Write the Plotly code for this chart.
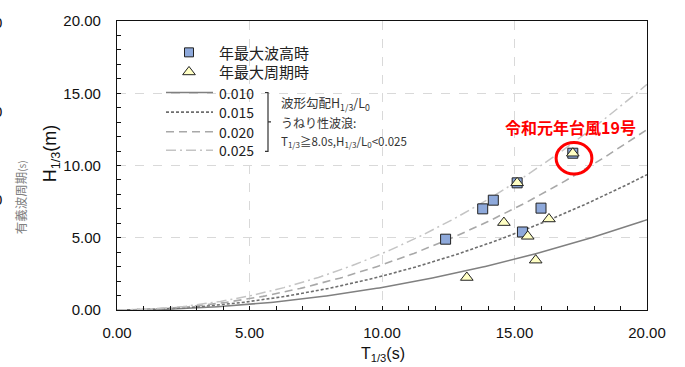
import numpy as np
import plotly.graph_objects as go

# ---- data ----
wave_T = [12.4, 13.8, 14.2, 15.1, 15.3, 16.0, 17.2]      # 年最大波高時
wave_H = [4.9, 7.0, 7.6, 8.8, 5.4, 7.05, 10.85]
period_T = [13.2, 14.6, 15.1, 15.5, 15.8, 16.3, 17.2]    # 年最大周期時
period_H = [2.25, 6.05, 8.8, 5.1, 3.45, 6.3, 10.85]
steepness = [0.010, 0.015, 0.020, 0.025]
steep_labels = ["0.010", "0.015", "0.020", "0.025"]
series_names = ["年最大波高時", "年最大周期時"]
xticks = [0, 5, 10, 15, 20]
yticks = [0, 5, 10, 15, 20]

G = 9.81
JP = "Noto Sans CJK JP"
LAT = "Liberation Sans, Arial"

# plot area in pixels
PL, PR, PT, PB = 117, 647, 15, 310


def px(x):
    return (x - PL) / (PR - PL)


def py(y):
    return (PB - y) / (PB - PT)


line_styles = [
    dict(color="#808080", width=1.5, dash="solid"),
    dict(color="#6e6e6e", width=1.6, dash="3px,2px"),
    dict(color="#a8a8a8", width=1.6, dash="8px,5px"),
    dict(color="#c4c4c4", width=1.5, dash="10px,4px,2px,4px"),
]
sq_marker = dict(symbol="square", size=10, color="#8EA9DB", line=dict(color="#222", width=1))
tri_marker = dict(symbol="triangle-up", size=11, color="#FFFFC4", line=dict(color="#222", width=1))

fig = go.Figure()

T = np.linspace(0, 20, 201)
for s, lab, st in zip(steepness, steep_labels, line_styles):
    fig.add_trace(go.Scatter(x=T, y=s * G * T ** 2 / (2 * np.pi), mode="lines",
                             line=st, name=lab, showlegend=False, hoverinfo="skip"))

fig.add_trace(go.Scatter(x=wave_T, y=wave_H, mode="markers", marker=sq_marker,
                         name=series_names[0], showlegend=False, cliponaxis=False))
fig.add_trace(go.Scatter(x=period_T, y=period_H, mode="markers", marker=tri_marker,
                         name=series_names[1], showlegend=False, cliponaxis=False))

# ---- manual legend on pixel overlay axes ----
fig.add_trace(go.Scatter(x=[189], y=[47], xaxis="x2", yaxis="y2", mode="markers",
                         marker=dict(sq_marker, size=9), showlegend=False, hoverinfo="skip"))
fig.add_trace(go.Scatter(x=[189], y=[67], xaxis="x2", yaxis="y2", mode="markers",
                         marker=tri_marker, showlegend=False, hoverinfo="skip"))
rows = [88, 108, 128, 147]
for yy, st in zip(rows, line_styles):
    fig.add_trace(go.Scatter(x=[166, 213], y=[yy, yy], xaxis="x2", yaxis="y2", mode="lines",
                             line=st, showlegend=False, hoverinfo="skip"))

ann = []
for yy, txt in zip([47, 67], series_names):
    ann.append(dict(x=217, y=yy, xref="x2", yref="y2", text=txt, showarrow=False,
                    xanchor="left", yanchor="middle", font=dict(family=JP, size=15, color="#222")))
for yy, txt in zip(rows, steep_labels):
    ann.append(dict(x=217, y=yy, xref="x2", yref="y2", text=txt, showarrow=False,
                    xanchor="left", yanchor="middle", font=dict(family=JP, size=14, color="#222")))
ann += [
    dict(x=279, y=99, xref="x2", yref="y2", text="波形勾配H<sub>1/3</sub>/L<sub>0</sub>",
         showarrow=False, xanchor="left", yanchor="middle", font=dict(family=JP, size=12.5, color="#333")),
    dict(x=279, y=119, xref="x2", yref="y2", text="うねり性波浪:",
         showarrow=False, xanchor="left", yanchor="middle", font=dict(family=JP, size=12, color="#333")),
    dict(x=279, y=138, xref="x2", yref="y2",
         text="T<sub>1/3</sub>≧8.0s,H<sub>1/3</sub>/L<sub>0</sub>&lt;0.025",
         showarrow=False, xanchor="left", yanchor="middle", font=dict(family=JP, size=11.5, color="#333")),
    dict(x=570, y=123, xref="x2", yref="y2", text="<b>令和元年台風19号</b>",
         showarrow=False, xanchor="center", yanchor="middle", font=dict(family=JP, size=16, color="#FF0000")),
    # axis titles
    dict(x=px(51), y=py(150), xref="paper", yref="paper", text="H<sub>1/3</sub>(m)", textangle=-90,
         showarrow=False, xanchor="center", yanchor="middle", font=dict(family=LAT, size=18, color="#111")),
    dict(x=px(383), y=py(355), xref="paper", yref="paper", text="T<sub>1/3</sub>(s)",
         showarrow=False, xanchor="center", yanchor="middle", font=dict(family=LAT, size=16, color="#111")),
    # remnants of neighbouring chart at left edge
    dict(x=px(20), y=py(195), xref="paper", yref="paper",
         text="有義波周期<span style='font-size:10px'>(s)</span>",
         textangle=-90, showarrow=False, xanchor="center", yanchor="middle",
         font=dict(family=JP, size=12.5, color="#808080")),
]
for yy in [17, 107, 197]:
    ann.append(dict(x=px(4), y=py(yy), xref="paper", yref="paper", text="0", showarrow=False,
                    xanchor="right", yanchor="middle", font=dict(family=LAT, size=15, color="#111")))

shapes = [
    # bracket
    dict(type="path", xref="x2", yref="y2",
         path="M 265,88 L 268,88 L 268,118 L 271,118 M 268,118 L 268,148 L 265,148",
         line=dict(color="#333", width=1.2)),
    # red circle
    dict(type="circle", xref="x", yref="y", x0=16.57, x1=17.92, y0=9.42, y1=11.59,
         line=dict(color="#FF0000", width=3)),
]

axis_common = dict(
    showline=True, linecolor="#111", linewidth=1.3, mirror=True,
    ticks="inside", ticklen=4, tickcolor="#111", tickwidth=1,
    showgrid=True, gridcolor="#d9d9d9", griddash="dash", gridwidth=1,
    zeroline=False, tickformat=".2f",
    tickfont=dict(family=LAT, size=15, color="#111"),
    minor=dict(dtick=1, ticks="inside", ticklen=4, tickcolor="#111", showgrid=False),
)

fig.update_layout(
    width=685, height=367,
    margin=dict(l=PL, r=685 - PR, t=PT, b=367 - PB),
    plot_bgcolor="white", paper_bgcolor="white",
    showlegend=False,
    xaxis=dict(range=[0, 20], tickvals=xticks, ticklabelstandoff=9, **axis_common),
    yaxis=dict(range=[0, 20], tickvals=yticks, ticklabelstandoff=12, **axis_common),
    xaxis2=dict(overlaying="x", range=[PL, PR], visible=False, fixedrange=True),
    yaxis2=dict(overlaying="y", range=[PB, PT], visible=False, fixedrange=True),
    annotations=ann, shapes=shapes,
)

fig.write_html("out.html", config={"displayModeBar": False},
               post_script="document.body.style.margin='0';")
